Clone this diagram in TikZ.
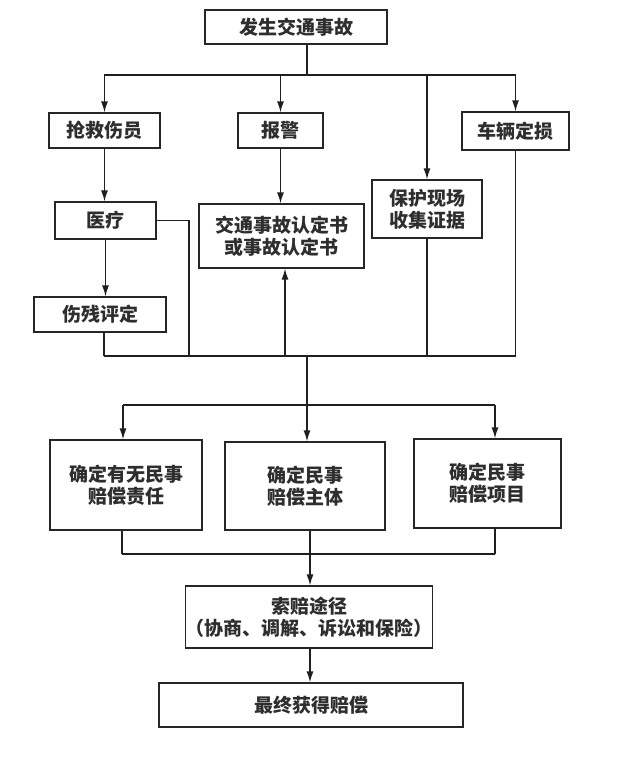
\documentclass[tikz,border=0pt]{standalone}
\usepackage{fontspec}
\newfontfamily\cjk{Noto Sans CJK SC}
\usetikzlibrary{arrows.meta}
\begin{document}
\begin{tikzpicture}[x=1pt,y=-1pt,
  box/.style={draw=black!85, line width=1.2pt, inner sep=0pt, align=center,
    font=\cjk\bfseries\fontsize{19}{22}\selectfont, text=black!82},
  ln/.style={draw=black!88, line width=1.4pt},
  arr/.style={ln, -{Latex[length=11pt,width=7pt]}}]
\useasboundingbox (0,0) rectangle (624,773);
\fill[white] (0,0) rectangle (624,773);
% nodes
\node[box, minimum width=182, minimum height=34] (top) at (296,27) {发生交通事故};
\node[box, minimum width=111, minimum height=35] (a) at (104.5,130.5) {抢救伤员};
\node[box, minimum width=85, minimum height=35] (b) at (280.5,130.5) {报警};
\node[box, minimum width=107, minimum height=38] (d) at (515.5,131) {车辆定损};
\node[box, minimum width=101, minimum height=37] (e) at (105.5,220.5) {医疗};
\node[box, minimum width=165, minimum height=64] (f) at (281.5,236) {交通事故认定书\\或事故认定书};
\node[box, minimum width=110, minimum height=58] (c) at (427,209) {保护现场\\收集证据};
\node[box, minimum width=132, minimum height=35] (g) at (100,314.5) {伤残评定};
\node[box, minimum width=152, minimum height=90] (h1) at (126,485) {确定有无民事\\赔偿责任};
\node[box, minimum width=160, minimum height=88] (h2) at (305,486) {确定民事\\赔偿主体};
\node[box, minimum width=147, minimum height=89] (h3) at (487.5,483.5) {确定民事\\赔偿项目};
\node[box, minimum width=244, minimum height=62, font=\cjk\bfseries\fontsize{19}{22.5}\selectfont] (i) at (309,617) {索赔途径\\（协商、调解、诉讼和保险）};
\node[box, minimum width=304, minimum height=44] (j) at (311,705) {最终获得赔偿};
% coordinates
\coordinate (s1) at (307,75);
\coordinate (q) at (189,356);
\coordinate (fu) at (285,356);
\coordinate (m1) at (307,356);
\coordinate (m2) at (307,405);
\coordinate (r1) at (123,405);
\coordinate (r3) at (495,405);
\coordinate (u1) at (122,554);
\coordinate (u2) at (310,554);
\coordinate (u3) at (495,554);
% top branches
\draw[ln] (top.south -| s1) -- (s1);
\draw[arr] (s1) -| (a);
\draw[arr] (s1) -| (b);
\draw[arr] (s1) -| (c);
\draw[arr] (s1) -| (d);
% chains
\draw[arr] (a.south) -- (a.south |- e.north);
\draw[arr] (e.south) -- (e.south |- g.north);
\draw[arr] (b.south) -- (b.south |- f.north);
% gather bus
\draw[ln] (e.east) -| (q);
\draw[ln] (g.south -| 104,0) -- (104,356);
\draw[ln] (c.south) -- (c.south |- q);
\draw[ln] (d.south) -- (d.south |- q);
\draw[ln] (104,356) -- (d.south |- q);
\draw[arr] (fu) -- (fu |- f.south);
% second level
\draw[ln] (m1) -- (m2);
\draw[ln] (r1) -- (r3);
\draw[arr] (r1) -- (r1 |- h1.north);
\draw[arr] (m2) -- (m2 |- h2.north);
\draw[arr] (r3) -- (r3 |- h3.north);
% gather 2
\draw[ln] (h1.south -| u1) -- (u1);
\draw[ln] (h2.south -| u2) -- (u2);
\draw[ln] (h3.south -| u3) -- (u3);
\draw[ln] (u1) -- (u3);
\draw[arr] (u2) -- (u2 |- i.north);
\draw[arr] (i.south -| u2) -- (u2 |- j.north);
\end{tikzpicture}
\end{document}
